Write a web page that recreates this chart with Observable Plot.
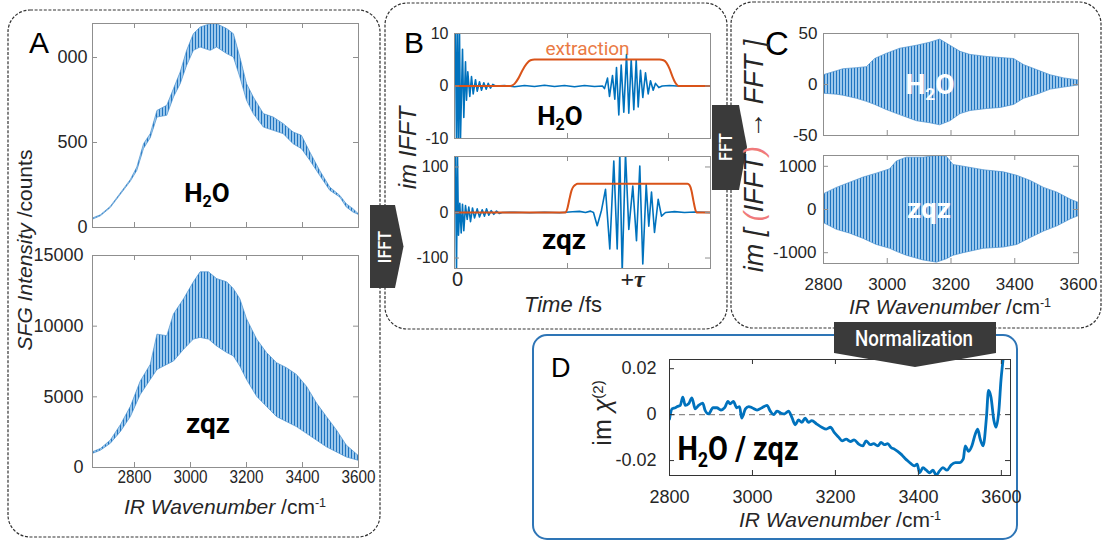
<!DOCTYPE html>
<html>
<head>
<meta charset="utf-8">
<script src="https://cdn.jsdelivr.net/npm/d3@7"></script>
<script src="https://cdn.jsdelivr.net/npm/@observablehq/plot@0.6"></script>
<style>
  html, body { margin: 0; padding: 0; background: #fff; }
  #fig { position: relative; width: 1104px; height: 542px; overflow: hidden;
         font-family: "Liberation Sans", Arial, sans-serif; color: #262626; }
  .t { position: absolute; white-space: nowrap; line-height: 1; }
  .lab { font-family: "Roboto", sans-serif; font-weight: 700; color: #000; }
  .tag { font-family: "Roboto", sans-serif; font-weight: 500; color: #fff; }
  .sub { font-size: 0.62em; position: relative; top: 0.3em; }
  .sup { font-size: 0.6em; position: relative; top: -0.55em; }
  .paren { color: #f07a7a; }
</style>
</head>
<body>
<div id="fig">
  <svg width="1104" height="542" style="position:absolute;left:0;top:0">
    <defs>
      <!-- dense interference fringes are rendered as vertical stripes -->
      <pattern id="fringe" patternUnits="userSpaceOnUse" width="3" height="6">
        <rect width="3" height="6" fill="#9cc8ec" shape-rendering="crispEdges"/>
        <rect width="1" height="6" fill="#1f74c0" shape-rendering="crispEdges"/>
      </pattern>
    </defs>
    <g fill="none" stroke="#333" stroke-width="1.2" stroke-dasharray="3,1.6">
      <rect x="8" y="10" width="372" height="527" rx="22"/>
      <rect x="385" y="3" width="342" height="326" rx="22"/>
      <rect x="731" y="2" width="370" height="326" rx="22"/>
    </g>
    <rect x="533" y="335" width="484" height="204" rx="14" fill="none" stroke="#2E75B6" stroke-width="2"/>
  </svg>
</div>
<script>
// ---------------- data ----------------
// A: raw SFG spectra, lower / upper envelope of the fringes (counts)
const h2oSpecWn   = [2650,2680,2715,2751,2787,2810,2834,2858,2882,2917,2941,2965,2988,3012,3036,3072,3095,3131,3155,3178,3202,3226,3262,3297,3333,3368,3398,3428,3463,3499,3535,3558,3582,3600];
const h2oSpecLow  = [45,66,114,192,270,333,462,525,647,657,765,843,951,1039,1059,1039,1059,1020,1000,882,745,667,588,569,549,490,461,392,304,216,176,118,88,75];
const h2oSpecHigh = [52,72,121,200,280,353,490,549,686,716,814,912,1039,1137,1176,1196,1196,1167,1137,1000,843,765,667,647,608,559,539,441,333,235,186,137,108,80];

const zqzSpecWn   = [2650,2680,2715,2751,2787,2822,2858,2882,2917,2941,2977,3012,3036,3066,3095,3131,3155,3178,3202,3238,3273,3309,3345,3380,3416,3452,3487,3523,3558,3600];
const zqzSpecLow  = [950,1190,1670,2500,3570,5120,6190,6900,7260,7500,8330,9050,9170,9050,8570,8100,7860,7140,6190,5000,4290,3570,3210,2860,2380,1900,1430,1070,710,480];
const zqzSpecHigh = [1070,1310,1900,2980,4290,6070,7260,9400,9290,10830,11900,13100,13810,13810,13330,13100,12620,11900,10480,9050,8100,7380,7020,6550,5710,4520,3570,2620,1550,830];

// B: imaginary part of the inverse FFT, [time, value]
const h2oIfft = [[0,0],[1,10.5],[2,-10.5],[3,10.5],[4,-10.5],[5,10.5],[6,-10],[8,7],[9.3,-6],[11,4.6],[12,-2.7],[13.3,2.7],[15.3,-2],[17,1.8],[18.7,-1.5],[21,1.2],[22.7,-1],[25,0.8],[27,-0.8],[29.3,0.6],[31.7,-0.6],[33.7,0.5],[36,-0.4],[38.3,0.3],[41,0],[50,0.1],[60,-0.15],[70,0.1],[80,-0.1],[90,0.15],[100,-0.1],[110,0.1],[120,-0.15],[130,0.1],[140,-0.1],[148,0],[150,-0.5],[153,1.5],[155,-2],[158,2],[160.3,-2.5],[162,3.5],[164.3,-5.5],[166.7,4],[169.3,-5],[172,6],[174.3,-5.2],[176.7,5],[179.3,-4.5],[181.7,5],[183.7,-4],[186,3],[188.3,-2.2],[191,2.5],[193.7,-1.5],[196,1],[198.7,-0.8],[201,0.5],[204.3,-0.3],[207.7,0],[215,0.1],[222,0],[256,0]];
const zqzIfft = [[0,0],[1,125],[2,-125],[3,125],[4,-50],[5.3,20],[6.7,-45],[8,18],[9.3,-40],[11,15],[12.7,-15],[14.3,12],[16,-20],[18,10],[20,-12],[22.7,8],[25,-10],[27.7,6],[30,-8],[32,8],[34.3,-6],[36.7,4],[39.3,-4],[42,3],[44.7,-2],[47.7,0],[60,0.5],[75,-0.5],[90,0.5],[105,-0.5],[118,1.5],[125,2.5],[131,0],[136,3],[139,0],[142.7,-29],[147,5],[151,51],[155.3,-80],[159.3,113],[162.7,-80],[165.3,130],[167.7,-130],[171,130],[174.3,-37],[178.3,58],[182,-62],[185.3,102],[188.3,-113],[191.7,62],[194.3,-30],[197,45],[200,-44],[203.7,29],[207,-8],[211,0],[220,2],[230,0],[240,1],[256,0]];
// B: extraction windows, [time, value]
const h2oWindow = [[0,0],[56,0],[60,0.4],[64,1.5],[68,3.0],[72,4.2],[76,4.9],[80,5.05],[205,5.05],[209,4.9],[212,4.4],[215,3.3],[218,1.8],[220,0.9],[222,0.3],[224,0],[256,0]];
const zqzWindow = [[0,0],[111,0],[113,10],[115,30],[117,48],[119,57],[121,61],[123,63],[233,63],[235,60],[237,48],[239,25],[241,5],[242,0],[256,0]];

// C: back-transformed fringes, lower / upper envelope
const h2oFftWn   = [2800,2842,2863,2905,2936,2962,2998,3040,3093,3135,3166,3198,3230,3261,3314,3356,3398,3429,3471,3513,3555,3600];
const h2oFftHigh = [9,13,15,16,17,25,30,35,38,41,44,38,32,29,27,26,25,19,14,9,6,4];
const h2oFftLow  = [-9,-10,-11,-14,-17,-20,-25,-30,-36,-38,-40,-36,-29,-26,-24,-23,-20,-14,-10,-5,-3,-1];
const zqzFftWn   = [2800,2842,2884,2926,2967,3009,3030,3061,3114,3156,3187,3208,3240,3302,3366,3408,3450,3492,3534,3575,3600];
const zqzFftHigh = [350,500,620,740,830,930,1110,1200,1200,1240,1220,1030,990,910,860,780,660,500,390,230,155];
const zqzFftLow  = [-310,-470,-560,-680,-820,-910,-980,-1070,-1180,-1230,-1150,-1070,-1010,-910,-880,-820,-660,-510,-390,-230,-155];

// D: normalized spectrum im chi(2), [wavenumber, value]
const ratioChi = [[2800,-0.0019],[2806,0.0025],[2814,0.0030],[2819,0.0035],[2826,0.0040],[2832,0.0076],[2838,0.0040],[2846,0.0047],[2854,0.0073],[2862,0.0025],[2870,0.0040],[2880,0.0050],[2886,0.0018],[2894,0.0003],[2905,0.0030],[2914,0.0030],[2924,0.0020],[2933,0.0030],[2941,0.0058],[2946,0.0047],[2954,0.0058],[2962,0.0030],[2969,0.0035],[2974,-0.0015],[2983,0.0025],[2991,0.0035],[2999,0.0030],[3011,0.0020],[3023,0.0030],[3035,0.0040],[3043,0.0015],[3051,0.0000],[3059,0.0015],[3069,0.0006],[3077,0.0003],[3087,0.0015],[3095,-0.0012],[3103,-0.0044],[3111,-0.0023],[3119,-0.0034],[3127,-0.0015],[3135,-0.0034],[3143,-0.0026],[3155,-0.0041],[3167,-0.0055],[3178,-0.0063],[3188,-0.0055],[3197,-0.0077],[3208,-0.0099],[3216,-0.0114],[3226,-0.0107],[3236,-0.0117],[3245,-0.0110],[3256,-0.0128],[3266,-0.0136],[3274,-0.0114],[3284,-0.0131],[3292,-0.0126],[3302,-0.0136],[3310,-0.0121],[3318,-0.0131],[3326,-0.0126],[3334,-0.0143],[3342,-0.0150],[3350,-0.0160],[3358,-0.0172],[3366,-0.0187],[3374,-0.0201],[3382,-0.0213],[3390,-0.0223],[3397,-0.0216],[3403,-0.0253],[3411,-0.0231],[3419,-0.0242],[3427,-0.0253],[3435,-0.0242],[3443,-0.0263],[3451,-0.0245],[3459,-0.0231],[3469,-0.0242],[3479,-0.0219],[3489,-0.0209],[3499,-0.0209],[3508,-0.0194],[3513,-0.0136],[3521,-0.0160],[3529,-0.0136],[3537,-0.0085],[3543,-0.0063],[3549,-0.0107],[3556,-0.0136],[3564,-0.0012],[3569,0.0105],[3575,0.0076],[3582,-0.0026],[3587,-0.0055],[3594,0.0018],[3599,0.0149],[3604,0.0240],[3612,0.0400]];

// ticks and tick labels
const wnTicks     = [2800, 3000, 3200, 3400, 3600];
const aTopTicks   = [0, 500, 1000];
const aBotTicks   = [0, 5000, 10000, 15000];
const bTopTicks   = [-10, 0, 10];
const bBotTicks   = [-100, 0, 100];
const timeTicks   = [113, 214];
const timeLabels  = [{t: 3, text: "0"}];
const delayLabels = [{t: 178, text: "+τ"}];
const cTopTicks   = [-50, 0, 50];
const cBotTicks   = [-1000, 0, 1000];
const dTicks      = [-0.02, 0, 0.02];

// ---------------- helpers ----------------
const fig = document.getElementById("fig");
const blue = "#0072BD", orange = "#D95319";
const band = (wn, lo, hi) => wn.map((w, i) => ({wn: w, lo: lo[i], hi: hi[i]}));
const pairs = (arr) => arr.map(([x, y]) => ({x, y}));

function panel(o) {
  const [L, T, R, B] = o.frame;
  const m = Object.assign({l: 80, t: 8, r: 8, b: 40}, o.margin || {});
  const fw = R - L, fh = B - T, tl = 5;
  const col = o.frameColor || "#8f8f8f";
  const fs = o.fontSize || 17;
  const marks = [
    ...o.marks,
    Plot.frame({stroke: col}),
    Plot.ruleX(o.xTicks, {insetTop: fh - tl, stroke: col}),
    Plot.ruleX(o.xTicks, {insetBottom: fh - tl, stroke: col}),
    Plot.ruleY(o.yTicks, {insetRight: fw - tl, stroke: col}),
    Plot.ruleY(o.yTicks, {insetLeft: fw - tl, stroke: col}),
    Plot.axisY(o.yTicks, {tickSize: 0, tickPadding: o.yPad, fontSize: fs, tickFormat: d => String(d), label: null})
  ];
  if (o.xLabels) marks.push(Plot.axisX(o.xTicks, {tickSize: 0, tickPadding: o.xPad, fontSize: o.xFontSize || fs, tickFormat: d => String(d), label: null}));
  if (o.extra) marks.push(...o.extra);
  const svg = Plot.plot({
    width: fw + m.l + m.r, height: fh + m.t + m.b,
    marginLeft: m.l, marginRight: m.r, marginTop: m.t, marginBottom: m.b,
    x: {domain: o.x, axis: null}, y: {domain: o.y, axis: null},
    style: {background: "transparent", overflow: "visible", color: "#262626",
            fontFamily: "'Liberation Sans', Arial, sans-serif"},
    marks
  });
  svg.style.position = "absolute";
  svg.style.left = (L - m.l) + "px";
  svg.style.top = (T - m.t) + "px";
  svg.style.maxWidth = "none";
  if (o.xNarrow) {
    svg.querySelectorAll('g[aria-label="x-axis tick label"] text').forEach(t => {
      const tr = t.getAttribute("transform");
      if (tr) t.setAttribute("transform", tr + ` scale(${o.xNarrow},1)`);
    });
  }
  fig.appendChild(svg);
  return svg;
}

function label(html, {x, y, size, cls = "", anchor = "middle", rotate = false, color, sx = 1, bg}) {
  const d = document.createElement("div");
  d.className = "t " + cls;
  d.innerHTML = html;
  d.style.fontSize = size + "px";
  if (color) d.style.color = color;
  if (bg) Object.assign(d.style, bg);
  d.style.left = x + "px";
  if (rotate) {
    d.style.top = y + "px";
    d.style.transform = `translate(-50%,-50%) rotate(-90deg) scaleX(${sx})`;
  } else {
    d.style.top = (y - 0.845 * size) + "px"; // y is the baseline
    d.style.transformOrigin = anchor === "middle" ? "50% 50%" : "0 50%";
    d.style.transform = `translateX(${anchor === "middle" ? "-50%" : "0"}) scaleX(${sx})`;
  }
  fig.appendChild(d);
  return d;
}

const fringeArea = (data) => Plot.areaY(data, {x: "wn", y1: "lo", y2: "hi", fill: "url(#fringe)", stroke: "#4a90cf", strokeWidth: 0.7, clip: true});

// ---------------- A: SFG spectra ----------------
panel({frame: [92, 23, 358, 227], x: [2650, 3600], y: [0, 1200],
  xTicks: wnTicks, yTicks: aTopTicks, yPad: 5, fontSize: 18,
  marks: [fringeArea(band(h2oSpecWn, h2oSpecLow, h2oSpecHigh))]});
panel({frame: [92, 255, 358, 467], x: [2650, 3600], y: [0, 15000],
  xTicks: wnTicks, yTicks: aBotTicks, yPad: 9, fontSize: 18, xLabels: true, xPad: 3, xNarrow: 0.85,
  marks: [fringeArea(band(zqzSpecWn, zqzSpecLow, zqzSpecHigh))]});

// ---------------- B: time domain ----------------
panel({frame: [454, 33, 710, 138], x: [0, 256], y: [-10, 10],
  xTicks: timeTicks, yTicks: bTopTicks, yPad: 6, fontSize: 16,
  marks: [
    Plot.line(pairs(h2oIfft), {x: "x", y: "y", stroke: blue, strokeWidth: 1.6, clip: true}),
    Plot.line(pairs(h2oWindow), {x: "x", y: "y", stroke: orange, strokeWidth: 2, curve: "monotone-x", clip: true})
  ]});
panel({frame: [454, 156, 710, 268], x: [0, 256], y: [-123, 123],
  xTicks: timeTicks, yTicks: bBotTicks, yPad: 6, fontSize: 16,
  marks: [
    Plot.line(pairs(zqzIfft), {x: "x", y: "y", stroke: blue, strokeWidth: 1.6, clip: true}),
    Plot.line(pairs(zqzWindow), {x: "x", y: "y", stroke: orange, strokeWidth: 2, curve: "monotone-x", clip: true})
  ],
  extra: [
    Plot.text(timeLabels, {x: "t", text: "text", frameAnchor: "bottom", dy: 17, fontSize: 20, fill: "#262626"}),
    Plot.text(delayLabels, {x: "t", text: "text", frameAnchor: "bottom", dy: 18, fontSize: 24, fill: "#262626",
      fontFamily: "'Liberation Serif', serif", fontStyle: "italic", fontWeight: "bold"})
  ]});

// ---------------- C: back-transformed spectra ----------------
panel({frame: [823, 33, 1078, 135], x: [2800, 3600], y: [-50, 50],
  xTicks: wnTicks, yTicks: cTopTicks, yPad: 6, fontSize: 17,
  marks: [fringeArea(band(h2oFftWn, h2oFftLow, h2oFftHigh))]});
panel({frame: [823, 155, 1078, 263], x: [2800, 3600], y: [-1250, 1250],
  xTicks: wnTicks, yTicks: cBotTicks, yPad: 7, fontSize: 17, xLabels: true, xPad: 14,
  marks: [fringeArea(band(zqzFftWn, zqzFftLow, zqzFftHigh))]});

// ---------------- D: normalized im chi(2) ----------------
panel({frame: [669, 359, 1010, 475], x: [2800, 3622], y: [-0.0265, 0.024],
  xTicks: wnTicks, yTicks: dTicks, yPad: 13, fontSize: 18, xLabels: true, xPad: 15, frameColor: "#333",
  marks: [
    Plot.ruleY([0], {x1: 2800, x2: 3600, stroke: "#8a8a8a", strokeWidth: 1.2, strokeDasharray: "6,4"}),
    Plot.line(pairs(ratioChi), {x: "x", y: "y", stroke: blue, strokeWidth: 2.8, curve: "monotone-x", clip: true})
  ]});

// ---------------- process arrows ----------------
const ns = "http://www.w3.org/2000/svg";
const arrows = document.createElementNS(ns, "svg");
arrows.setAttribute("width", 1104); arrows.setAttribute("height", 542);
arrows.style.position = "absolute"; arrows.style.left = "0"; arrows.style.top = "0";
arrows.innerHTML = `
  <g fill="#3a3a3a">
    <polygon points="370,205 395,205 403.5,246.5 395,288 370,288"/>
    <polygon points="712,105 739,105 747,147 739,190 712,190"/>
    <polygon points="834,322 996,322 996,353 915,367 834,353"/>
  </g>`;
fig.appendChild(arrows);

// ---------------- text ----------------
const H2O = `H<span class="sub">2</span>O`;
const wnTitle = `<i>IR Wavenumber</i> /cm<span class="sup">-1</span>`;

// panel letters
label("A", {x: 29, y: 53.5, size: 30, anchor: "start", color: "#000",
  bg: {background: "#fff", width: "29px", height: "36px"}});
label("B", {x: 404, y: 53.3, size: 30, anchor: "start", color: "#000"});
label("C", {x: 765, y: 54.5, size: 33, anchor: "start", color: "#000"});
label("D", {x: 551, y: 378.3, size: 27, anchor: "start", color: "#000"});

// axis titles
label(`<i>SFG Intensity</i> /counts`, {x: 24, y: 250, size: 21, rotate: true});
label(wnTitle, {x: 225, y: 514, size: 21});
label(`<i>im IFFT</i>`, {x: 408, y: 148, size: 24, rotate: true});
label(`<i>Time</i> /fs`, {x: 563, y: 313, size: 22});
label(`<i>im [ <span class="paren">(</span>IFFT<span class="paren">)</span> → FFT ]</i>`, {x: 754, y: 156, size: 27, rotate: true});
label(wnTitle, {x: 950, y: 314, size: 21});
label(`im <i>χ</i><span class="sup">(2)</span>`, {x: 602, y: 413, size: 25, rotate: true});
label(wnTitle, {x: 840, y: 527, size: 21});

// sample annotations
label(H2O, {x: 207, y: 201.7, size: 26, cls: "lab"});
label("zqz", {x: 208, y: 433.3, size: 28, cls: "lab"});
label(H2O, {x: 560, y: 125, size: 26, cls: "lab"});
label("zqz", {x: 564, y: 250, size: 28, cls: "lab"});
label(H2O, {x: 930, y: 95, size: 28, cls: "lab", color: "#fff"});
label("zqz", {x: 929, y: 218.3, size: 28, cls: "lab", color: "#fff"});
label(`${H2O} / zqz`, {x: 737.5, y: 460, size: 34, cls: "lab", sx: 0.85});
label("extraction", {x: 587.5, y: 55.5, size: 19, cls: "", color: "#EA7A44",
  bg: {fontFamily: "Roboto, sans-serif"}});

// process steps
label("IFFT", {x: 384, y: 246.5, size: 19, cls: "tag", rotate: true, sx: 0.85});
label("FFT", {x: 725, y: 147, size: 19, cls: "tag", rotate: true, sx: 0.85});
label("Normalization", {x: 914, y: 346.7, size: 22, cls: "tag", sx: 0.85});
</script>
</body>
</html>
